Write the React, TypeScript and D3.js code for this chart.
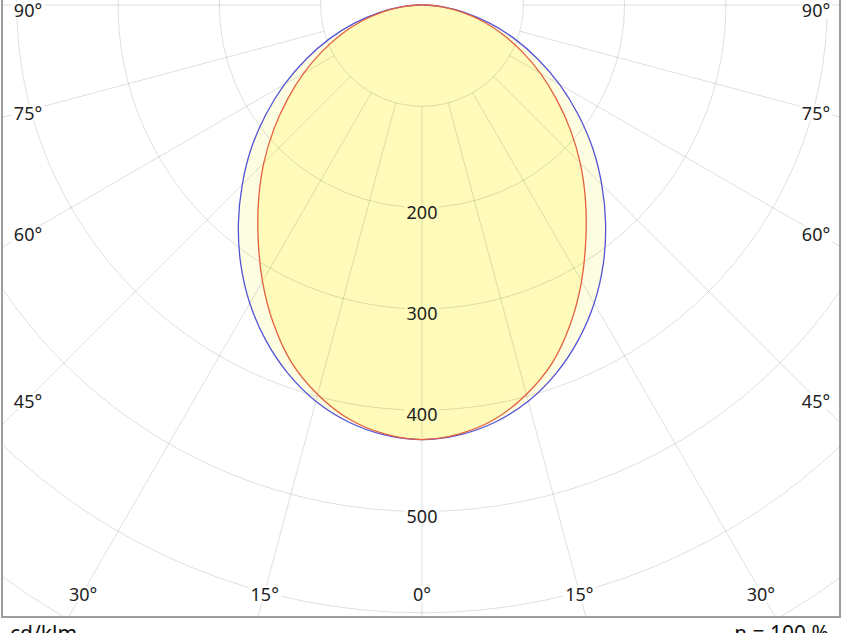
import { useEffect, useRef } from "react";
import * as d3 from "d3";

// gamma angles (deg from nadir) and intensities in cd/klm, symmetric left/right
const GAMMA = [0, 5, 10, 15, 20, 25, 30, 35, 40, 45, 50, 55, 60, 65, 70, 75, 80, 85, 90];
const PLANE_BLUE = [429, 426, 418, 405, 387, 365, 340, 312, 282, 251, 220, 188, 157, 126, 97, 69, 43, 21, 4];
const PLANE_RED = [429, 425, 415, 398, 376, 347, 315, 282, 251, 221, 191, 162, 135, 109, 85, 62, 40, 20, 4];

const RINGS = [100, 200, 300, 400, 500, 600, 700, 800, 900];
const RING_LABELS = [200, 300, 400, 500];
const SPOKES = [-90, -75, -60, -45, -30, -15, 0, 15, 30, 45, 60, 75, 90];

const WIDTH = 844;
const HEIGHT = 633;

export default function App() {
  const svgRef = useRef<SVGSVGElement | null>(null);

  useEffect(() => {
    const svgEl = svgRef.current;
    if (!svgEl) return;

    const cx = 422;
    const cy = 5;
    const frame = { left: 3, right: 839, bottom: 616 };
    const r = d3.scaleLinear().domain([0, 100]).range([0, 101.3]);
    const font = "'Noto Sans', 'DejaVu Sans', sans-serif";

    const svg = d3.select(svgEl);
    svg.selectAll("*").remove();

    svg.append("rect").attr("width", WIDTH).attr("height", HEIGHT).attr("fill", "#fff");

    svg
      .append("defs")
      .append("clipPath")
      .attr("id", "plot-clip")
      .append("rect")
      .attr("x", frame.left)
      .attr("y", -200)
      .attr("width", frame.right - frame.left)
      .attr("height", frame.bottom + 200);

    const plot = svg.append("g").attr("clip-path", "url(#plot-clip)");
    const g = plot.append("g").attr("transform", `translate(${cx},${cy})`);

    // left side: clockwise angle from "up" = PI + gamma; right side: PI - gamma
    const toRad = (deg: number) => (deg * Math.PI) / 180;
    const loop = (values: number[]) => {
      const pts: [number, number][] = [];
      for (let i = GAMMA.length - 1; i >= 0; i--) pts.push([Math.PI + toRad(GAMMA[i]), r(values[i])]);
      for (let i = 1; i < GAMMA.length; i++) pts.push([Math.PI - toRad(GAMMA[i]), r(values[i])]);
      return pts;
    };
    const radial = d3
      .lineRadial<[number, number]>()
      .angle((d) => d[0])
      .radius((d) => d[1])
      .curve(d3.curveCatmullRomClosed.alpha(0.5));

    const bluePath = radial(loop(PLANE_BLUE)) ?? "";
    const redPath = radial(loop(PLANE_RED)) ?? "";

    g.append("path").attr("d", bluePath).attr("fill", "#fdfde1");
    g.append("path").attr("d", redPath).attr("fill", "#fffbbb");

    // grid
    const gridColor = "rgba(0,0,0,0.13)";
    g.selectAll("circle.ring")
      .data(RINGS)
      .join("circle")
      .attr("class", "ring")
      .attr("r", (d) => r(d))
      .attr("fill", "none")
      .attr("stroke", gridColor)
      .attr("stroke-width", 1);

    g.selectAll("line.spoke")
      .data(SPOKES)
      .join("line")
      .attr("class", "spoke")
      .attr("x1", (d) => r(100) * Math.sin(toRad(d)))
      .attr("y1", (d) => r(100) * Math.cos(toRad(d)))
      .attr("x2", (d) => r(1000) * Math.sin(toRad(d)))
      .attr("y2", (d) => r(1000) * Math.cos(toRad(d)))
      .attr("stroke", gridColor)
      .attr("stroke-width", 1);

    g.append("path").attr("d", bluePath).attr("fill", "none").attr("stroke", "#5454d6").attr("stroke-width", 1.3);
    g.append("path").attr("d", redPath).attr("fill", "none").attr("stroke", "#e5603e").attr("stroke-width", 1.3);

    // ring labels along nadir
    RING_LABELS.forEach((v) => {
      const y = r(v) + 4;
      const bg = v < PLANE_RED[0] ? "#fffbbb" : "#fff";
      g.append("rect").attr("x", -17).attr("y", y - 6).attr("width", 34).attr("height", 13).attr("fill", bg);
      g.append("text")
        .attr("x", 0)
        .attr("y", y)
        .attr("text-anchor", "middle")
        .attr("dominant-baseline", "central")
        .attr("font-family", font)
        .attr("font-size", 18)
        .attr("fill", "#222")
        .text(v);
    });

    // angle labels where spokes meet an inset box
    const inset = { left: 28 - cx, right: WIDTH - 28 - cx, bottom: 592 - cy };
    SPOKES.forEach((deg) => {
      const s = Math.sin(toRad(deg));
      const c = Math.cos(toRad(deg));
      let t = Infinity;
      if (s < -1e-6) t = Math.min(t, inset.left / s);
      if (s > 1e-6) t = Math.min(t, inset.right / s);
      if (c > 1e-6) t = Math.min(t, inset.bottom / c);
      const x = t * s;
      const y = Math.max(t * c + 2, 5);
      const label = `${Math.abs(deg)}°`;
      const w = label.length * 9.5 + 4;
      g.append("rect").attr("x", x - w / 2).attr("y", y - 8).attr("width", w).attr("height", 16).attr("fill", "#fff");
      g.append("text")
        .attr("x", x)
        .attr("y", y)
        .attr("text-anchor", "middle")
        .attr("dominant-baseline", "central")
        .attr("font-family", font)
        .attr("font-size", 18)
        .attr("fill", "#222")
        .text(label);
    });

    // frame
    const frameColor = "#9d9d9d";
    svg.append("line").attr("x1", 2).attr("x2", 2).attr("y1", 0).attr("y2", 617).attr("stroke", frameColor).attr("stroke-width", 2);
    svg.append("line").attr("x1", 840).attr("x2", 840).attr("y1", 0).attr("y2", 617).attr("stroke", frameColor).attr("stroke-width", 2);
    svg.append("line").attr("x1", 1).attr("x2", 841).attr("y1", 617).attr("y2", 617).attr("stroke", frameColor).attr("stroke-width", 2);

    svg
      .append("text")
      .attr("x", 10)
      .attr("y", 641)
      .attr("font-family", font)
      .attr("font-size", 21)
      .attr("fill", "#111")
      .text("cd/klm");
    svg
      .append("text")
      .attr("x", 829)
      .attr("y", 641)
      .attr("text-anchor", "end")
      .attr("font-family", font)
      .attr("font-size", 21)
      .attr("fill", "#111")
      .text("η = 100 %");
  }, []);

  return (
    <svg
      ref={svgRef}
      width={WIDTH}
      height={HEIGHT}
      style={{ position: "absolute", left: 0, top: 0, display: "block" }}
    />
  );
}
